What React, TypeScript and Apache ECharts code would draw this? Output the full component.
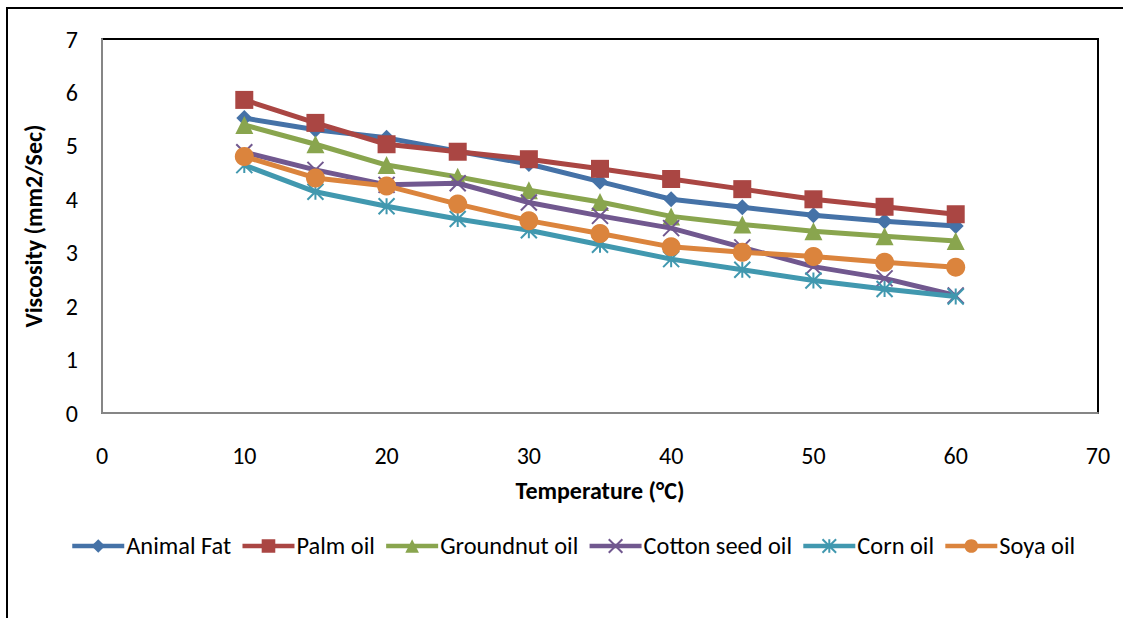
import React, { useEffect, useRef } from "react";
import * as echarts from "echarts";

const temperatures = [10, 15, 20, 25, 30, 35, 40, 45, 50, 55, 60];
const animalFat = [5.52, 5.3, 5.15, 4.9, 4.66, 4.33, 4.0, 3.85, 3.7, 3.59, 3.5];
const palmOil = [5.86, 5.43, 5.03, 4.89, 4.75, 4.57, 4.38, 4.19, 4.0, 3.86, 3.72];
const groundnutOil = [5.39, 5.03, 4.64, 4.42, 4.17, 3.95, 3.68, 3.53, 3.4, 3.31, 3.22];
const cottonSeedOil = [4.88, 4.55, 4.27, 4.3, 3.94, 3.69, 3.46, 3.1, 2.74, 2.52, 2.2];
const cornOil = [4.64, 4.14, 3.87, 3.63, 3.42, 3.15, 2.88, 2.68, 2.48, 2.32, 2.18];
const soyaOil = [4.8, 4.4, 4.25, 3.91, 3.6, 3.36, 3.11, 3.01, 2.93, 2.82, 2.73];

const seriesNames = ["Animal Fat", "Palm oil", "Groundnut oil", "Cotton seed oil", "Corn oil", "Soya oil"];
const seriesValues = [animalFat, palmOil, groundnutOil, cottonSeedOil, cornOil, soyaOil];
const colors = ["#4572A7", "#AA4643", "#89A54E", "#71588F", "#4198AF", "#DB843D"];

const xTicks = [0, 10, 20, 30, 40, 50, 60, 70];
const yTicks = [0, 1, 2, 3, 4, 5, 6, 7];

const FONT = "Carlito, Calibri, Lato, sans-serif";
const FS = 24;

const symbols = [
  "diamond",
  "rect",
  "triangle",
  "path://M0,0L10,10M10,0L0,10",
  "path://M5,0L5,10M0,0L10,10M10,0L0,10",
  "circle",
];
const symbolSizes = [16, 18, 18, 16, 16, 19];
const strokeOnly = [false, false, false, true, true, false];

export default function App() {
  const ref = useRef<HTMLDivElement>(null);
  useEffect(() => {
    if (!ref.current) return;
    const chart = echarts.init(ref.current, null, { renderer: "svg" });
    const series = seriesNames.map((name, i) => ({
      name,
      type: "line",
      z: 2 + i,
      data: temperatures.map((t, j) => [t, seriesValues[i][j]]),
      symbol: symbols[i],
      symbolSize: symbolSizes[i],
      showSymbol: true,
      lineStyle: { color: colors[i], width: 5 },
      itemStyle: strokeOnly[i]
        ? { color: "none", borderColor: colors[i], borderWidth: 2 }
        : { color: colors[i], borderWidth: 0 },
      emphasis: { disabled: true },
    }));
    chart.setOption({
      animation: false,
      backgroundColor: "#fff",
      textStyle: { fontFamily: FONT },
      grid: {
        left: 102,
        top: 39,
        width: 996,
        height: 374,
        show: true,
        borderColor: "#000",
        borderWidth: 2,
        backgroundColor: "transparent",
      },
      graphic: [
        {
          type: "rect",
          shape: { x: 7, y: 8, width: 1300, height: 800 },
          style: { fill: "none", stroke: "#000", lineWidth: 2 },
          silent: true,
          z: 0,
        },
      ],
      legend: {
        left: 70,
        top: 534,
        padding: 0,
        itemWidth: 52,
        itemHeight: 17,
        itemGap: 9,
        lineStyle: { width: 4.5 },
        textStyle: { fontFamily: FONT, fontSize: 24.4, color: "#000", padding: [0, 0, 0, -3] },
        data: seriesNames,
      },
      xAxis: {
        type: "value",
        min: xTicks[0],
        max: xTicks[xTicks.length - 1],
        interval: 10,
        name: "Temperature (°C)",
        nameLocation: "middle",
        nameGap: 65,
        nameTextStyle: { fontFamily: FONT, fontSize: FS, fontWeight: "bold", color: "#000" },
        axisLine: { show: true, onZero: false, lineStyle: { color: "#868686", width: 2 } },
        axisTick: { show: false },
        splitLine: { show: false },
        axisLabel: { fontFamily: FONT, fontSize: FS, color: "#000", margin: 30 },
      },
      yAxis: {
        type: "value",
        min: yTicks[0],
        max: yTicks[yTicks.length - 1],
        interval: 1,
        name: "Viscosity (mm2/Sec)",
        nameLocation: "middle",
        nameGap: 57,
        nameTextStyle: { fontFamily: FONT, fontSize: FS, fontWeight: "bold", color: "#000" },
        axisLine: { show: true, lineStyle: { color: "#868686", width: 2 } },
        axisTick: { show: false },
        splitLine: { show: false },
        axisLabel: { fontFamily: FONT, fontSize: FS, color: "#000", margin: 24 },
      },
      series,
    });
    return () => chart.dispose();
  }, []);
  return (
    <div
      ref={ref}
      style={{ position: "absolute", left: 0, top: 0, width: 1123, height: 618 }}
    />
  );
}
